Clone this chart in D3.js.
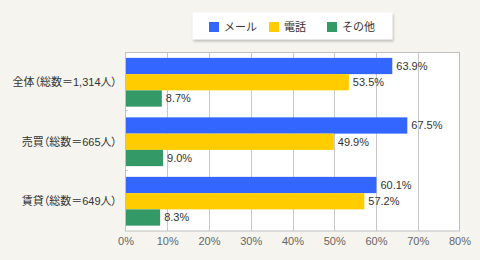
<!DOCTYPE html>
<html>
<head>
<meta charset="utf-8">
<script src="https://cdn.jsdelivr.net/npm/d3@7"></script>
<style>
  body { margin: 0; background: #f5f4ee; }
  svg { display: block; font-family: "Liberation Sans", "Noto Sans CJK JP", sans-serif; }
  .cat { font-feature-settings: "palt"; }
</style>
</head>
<body>
<div class="chart"></div>
<script>
// data
var categories = ['全体（総数＝1,314人）', '売買（総数＝665人）', '賃貸（総数＝649人）'];
var seriesNames = ['メール', '電話', 'その他'];
var mailValues = [63.9, 67.5, 60.1];
var phoneValues = [53.5, 49.9, 57.2];
var otherValues = [8.7, 9.0, 8.3];
var tickValues = [0, 10, 20, 30, 40, 50, 60, 70, 80];
var colors = ['#3366ff', '#ffcc00', '#339966'];

var fontStack = '"Liberation Sans", "Noto Sans CJK JP", sans-serif';
var width = 480, height = 260;
var plot = { left: 125.5, right: 459.5, top: 52.5, bottom: 231 };

var svg = d3.select('.chart').append('svg')
    .attr('width', width)
    .attr('height', height);

svg.append('rect')
    .attr('width', width)
    .attr('height', height)
    .attr('fill', '#f5f4ee');

var x = d3.scaleLinear()
    .domain([0, 80])
    .range([plot.left, plot.right]);

var y = d3.scaleBand()
    .domain(categories)
    .range([plot.top, plot.bottom]);

var ySub = d3.scaleBand()
    .domain(seriesNames)
    .range([0, y.bandwidth()])
    .paddingOuter(0.33);

// plot background
svg.append('rect')
    .attr('x', plot.left)
    .attr('y', plot.top)
    .attr('width', plot.right - plot.left)
    .attr('height', plot.bottom - plot.top)
    .attr('fill', '#fff');

// grid lines
svg.append('g')
    .selectAll('line')
    .data(tickValues.slice(1, -1))
    .enter().append('line')
    .attr('x1', d => Math.round(x(d)) + 0.5)
    .attr('x2', d => Math.round(x(d)) + 0.5)
    .attr('y1', plot.top)
    .attr('y2', plot.bottom)
    .attr('stroke', '#c8c8c8');

// rows
var rows = categories.map(function(c, i) {
    return { cat: c, values: [mailValues[i], phoneValues[i], otherValues[i]] };
});

var group = svg.append('g')
    .selectAll('g')
    .data(rows)
    .enter().append('g')
    .attr('transform', d => 'translate(0,' + y(d.cat) + ')');

group.selectAll('rect')
    .data(d => d.values.map((v, j) => ({ name: seriesNames[j], value: v, color: colors[j] })))
    .enter().append('rect')
    .attr('x', plot.left)
    .attr('y', d => ySub(d.name))
    .attr('width', d => x(d.value) - x(0))
    .attr('height', ySub.bandwidth())
    .attr('fill', d => d.color);

group.selectAll('text.val')
    .data(d => d.values.map((v, j) => ({ name: seriesNames[j], value: v })))
    .enter().append('text')
    .attr('class', 'val')
    .attr('x', d => x(d.value) + 4)
    .attr('y', d => ySub(d.name) + ySub.bandwidth() / 2)
    .attr('dy', '0.35em')
    .attr('font-size', 11)
    .attr('fill', '#333')
    .text(d => d.value.toFixed(1) + '%');

// category labels
svg.append('g')
    .selectAll('text')
    .data(categories)
    .enter().append('text')
    .attr('class', 'cat')
    .attr('x', 117)
    .attr('y', d => y(d) + y.bandwidth() / 2)
    .attr('dy', '0.35em')
    .attr('text-anchor', 'end')
    .attr('font-size', 11)
    .attr('fill', '#333')
    .text(d => d);

// small ticks between categories
svg.append('g')
    .selectAll('line')
    .data(categories.slice(1))
    .enter().append('line')
    .attr('x1', plot.left)
    .attr('x2', plot.left + 2)
    .attr('y1', d => Math.round(y(d)) - 1.5)
    .attr('y2', d => Math.round(y(d)) - 1.5)
    .attr('stroke', '#bbb');

// plot border
svg.append('rect')
    .attr('x', plot.left)
    .attr('y', plot.top)
    .attr('width', plot.right - plot.left)
    .attr('height', plot.bottom - plot.top)
    .attr('fill', 'none')
    .attr('stroke', '#c0c0c0');

// x axis labels
var xAxis = svg.append('g')
    .attr('transform', 'translate(0,' + plot.bottom + ')')
    .call(d3.axisBottom(x).tickValues(tickValues).tickSize(0).tickPadding(6).tickFormat(d => d + '%'));
xAxis.select('.domain').remove();
xAxis.selectAll('text')
    .attr('font-size', 11)
    .attr('font-family', fontStack)
    .attr('fill', '#666');

// legend
var defs = svg.append('defs');
var shadow = defs.append('filter').attr('id', 'shadow')
    .attr('x', '-10%').attr('y', '-30%').attr('width', '130%').attr('height', '180%');
shadow.append('feDropShadow')
    .attr('dx', 1).attr('dy', 2).attr('stdDeviation', 1)
    .attr('flood-color', '#888').attr('flood-opacity', 0.5);

var legend = svg.append('g').attr('transform', 'translate(192.5,12.5)');
legend.append('rect')
    .attr('width', 200)
    .attr('height', 27)
    .attr('fill', '#fff')
    .attr('filter', 'url(#shadow)');

var legendX = [16.5, 76.5, 134.5];
var item = legend.selectAll('g.item')
    .data(seriesNames)
    .enter().append('g')
    .attr('class', 'item')
    .attr('transform', (d, i) => 'translate(' + legendX[i] + ',0)');
item.append('rect')
    .attr('y', 9.5)
    .attr('width', 10)
    .attr('height', 10)
    .attr('fill', (d, i) => colors[i]);
item.append('text')
    .attr('x', 15)
    .attr('y', 14.5)
    .attr('dy', '0.35em')
    .attr('font-size', 11)
    .attr('fill', '#333')
    .text(d => d);
</script>
</body>
</html>
